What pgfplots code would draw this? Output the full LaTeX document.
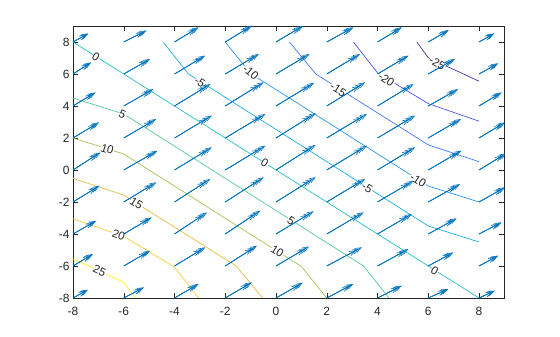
\documentclass[border=0pt]{standalone}
\usepackage{pgfplots}
\pgfplotsset{compat=1.18}
\usepackage{pgfplotstable}
\usepackage{fontspec}
\setmainfont{Liberation Sans}
\usetikzlibrary{arrows.meta}
\definecolor{qblue}{rgb}{0,0.447,0.741}
\definecolor{cmA}{rgb}{0.2422,0.1504,0.6603}
\definecolor{cmB}{rgb}{0.28,0.29,0.93}
\definecolor{cmC}{rgb}{0.22,0.45,0.98}
\definecolor{cmD}{rgb}{0.12,0.57,0.93}
\definecolor{cmE}{rgb}{0.05,0.67,0.87}
\definecolor{cF}{rgb}{0.10,0.74,0.76}
\definecolor{cG}{rgb}{0.30,0.78,0.56}
\definecolor{cH}{rgb}{0.62,0.75,0.30}
\definecolor{cI}{rgb}{0.92,0.72,0.22}
\definecolor{cJ}{rgb}{0.98,0.80,0.20}
\definecolor{cK}{rgb}{0.9769,0.9839,0.0805}
\tikzset{
  cline/.style={line width=0.65bp},
  clab/.style={font=\fontsize{11.5}{13}\selectfont, text=black!85, fill=white, inner sep=0.5bp},
  arr/.style={qblue, line width=0.6bp, -{Straight Barb[length=6bp,width=4.5bp]}},
}
\pgfplotstableread{
x y u v
-8 8 0.61 0.54
-6 8 0.90 0.72
-4 8 0.95 0.92
-2 8 1.05 1.02
0 8 1.08 1.02
2 8 1.05 0.92
4 8 0.96 0.92
6 8 0.81 0.75
8 8 0.60 0.54
-8 6 0.72 0.73
-6 6 1.04 0.94
-4 6 1.21 1.15
-2 6 1.32 1.25
0 6 1.32 1.25
2 6 1.31 1.25
4 6 1.22 1.15
6 6 1.05 0.94
8 6 0.76 0.67
-8 4 0.89 0.85
-6 4 1.17 1.06
-4 4 1.41 1.37
-2 4 1.51 1.48
0 4 1.50 1.45
2 4 1.51 1.48
4 4 1.42 1.37
6 4 1.18 1.06
8 4 0.89 0.85
-8 2 1.03 0.98
-6 2 1.28 1.19
-4 2 1.47 1.40
-2 2 1.58 1.50
0 2 1.56 1.55
2 2 1.58 1.50
4 2 1.48 1.40
6 2 1.29 1.19
8 2 1.03 0.98
-8 0 1.08 1.10
-6 0 1.33 1.21
-4 0 1.47 1.42
-2 0 1.58 1.52
0 0 1.55 1.56
2 0 1.58 1.52
4 0 1.48 1.42
6 0 1.31 1.21
8 0 1.08 1.05
-8 -2 1.05 1.02
-6 -2 1.28 1.23
-4 -2 1.41 1.44
-2 -2 1.51 1.54
0 -2 1.56 1.55
2 -2 1.51 1.44
4 -2 1.42 1.33
6 -2 1.25 1.12
8 -2 1.03 0.92
-8 -4 0.92 0.83
-6 -4 1.10 1.04
-4 -4 1.28 1.35
-2 -4 1.38 1.46
0 -4 1.48 1.42
2 -4 1.45 1.35
4 -4 1.35 1.25
6 -4 1.12 0.98
8 -4 0.89 0.73
-8 -6 0.79 0.75
-6 -6 1.04 0.96
-4 -6 1.21 1.17
-2 -6 1.25 1.27
0 -6 1.30 1.22
2 -6 1.38 1.17
4 -6 1.22 1.06
6 -6 0.99 0.85
8 -6 0.76 0.65
-8 -8 0.59 0.52
-6 -8 0.80 0.67
-4 -8 0.95 0.88
-2 -8 1.05 0.98
0 -8 1.05 0.95
2 -8 1.05 0.88
4 -8 0.96 0.77
6 -8 0.79 0.56
8 -8 0.63 0.46
}\qdata
\begin{document}
\begin{tikzpicture}
\begin{axis}[
  scale only axis,
  width=431.4bp, height=272bp,
  xmin=-8, xmax=9, ymin=-8, ymax=9,
  xtick={-8,-6,...,8}, ytick={-8,-6,...,8},
  tick align=inside,
  major tick length=5bp,
  axis line style={black!85, line width=0.5bp},
  every tick/.style={black!85, line width=0.5bp},
  ticklabel style={font=\fontsize{12}{14}\selectfont, text=black!85},
  /pgf/number format/assume math mode=true,
  xticklabel style={yshift=-5.5bp},
]
\addplot[cline, cK] coordinates {(-8,-5.55) (-6,-7.02) (-5.55,-8)};
\addplot[cline, cJ] coordinates {(-8,-3.05) (-6,-4.15) (-4,-6.07) (-3.05,-8)};
\addplot[cline, cI] coordinates {(-8,-0.52) (-6,-1.57) (-1.57,-6) (-0.53,-8)};
\addplot[cline, cH] coordinates {(-8,2.0) (-6,1.0) (1.0,-6.03) (2,-8)};
\addplot[cline, cG] coordinates {(-8,4.5) (-6,3.5) (3.45,-6.0) (4.45,-8)};
\addplot[cline, cF] coordinates {(-8,8) (8,-8)};
\addplot[cline, cmE] coordinates {(-4.45,8) (-3.45,6.0) (6,-3.5) (8,-4.5)};
\addplot[cline, cmD] coordinates {(-2,8) (-1,6.03) (6,-1.0) (8,-2.0)};
\addplot[cline, cmC] coordinates {(0.53,8) (1.57,6) (6,1.57) (8,0.52)};
\addplot[cline, cmB] coordinates {(3.05,8) (4,6.07) (6,4.15) (8,3.05)};
\addplot[cline, cmA] coordinates {(5.55,8) (6,7.02) (8,5.55)};
\node[clab, rotate=-32] at (axis cs:-7.1,7.05) {0};
\node[clab, rotate=-32] at (axis cs:-0.45,0.42) {0};
\node[clab, rotate=-32] at (axis cs:6.25,-6.3) {0};
\node[clab, rotate=-25] at (axis cs:-6.05,3.45) {5};
\node[clab, rotate=-32] at (axis cs:0.6,-3.15) {5};
\node[clab, rotate=-17] at (axis cs:-6.65,1.3) {10};
\node[clab, rotate=-32] at (axis cs:0.05,-5.1) {10};
\node[clab, rotate=-32] at (axis cs:-5.5,-2.1) {15};
\node[clab, rotate=-22] at (axis cs:-6.2,-4.05) {20};
\node[clab, rotate=-25] at (axis cs:-6.95,-6.3) {25};
\node[clab, rotate=-35] at (axis cs:-3.0,5.5) {-5};
\node[clab, rotate=-32] at (axis cs:3.6,-1.1) {-5};
\node[clab, rotate=-40] at (axis cs:-1.0,6.1) {-10};
\node[clab, rotate=-32] at (axis cs:5.6,-0.65) {-10};
\node[clab, rotate=-32] at (axis cs:2.45,5.0) {-15};
\node[clab, rotate=-35] at (axis cs:4.35,5.65) {-20};
\node[clab, rotate=-30] at (axis cs:6.35,6.65) {-25};
\addplot[arr, quiver={u=\thisrow{u}, v=\thisrow{v}, scale arrows=0.84}] table[x=x, y=y] {\qdata};
\addplot[arr, quiver={u=\thisrow{u}, v=\thisrow{v}, scale arrows=0.92}] table[x=x, y=y] {\qdata};
\addplot[arr, quiver={u=\thisrow{u}, v=\thisrow{v}, scale arrows=1}] table[x=x, y=y] {\qdata};
\end{axis}
\path (current axis.south west) ++(-73bp,-39bp) rectangle ++(560bp,337bp);
\end{tikzpicture}
\end{document}
